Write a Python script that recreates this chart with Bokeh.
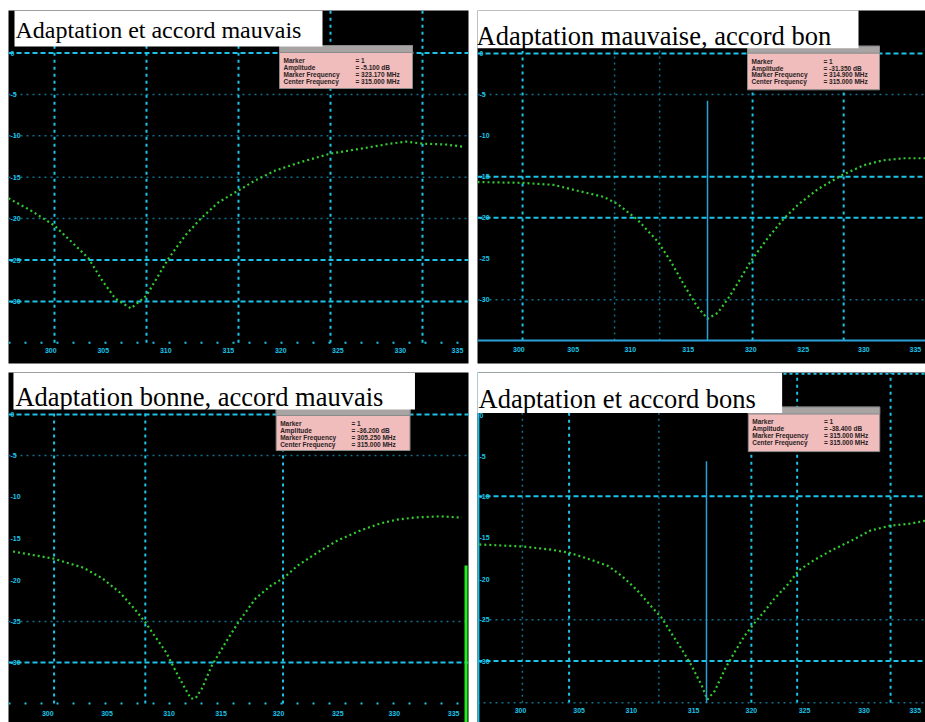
from bokeh.plotting import figure
from bokeh.layouts import gridplot
from bokeh.models import Range1d, Label
from bokeh.core.properties import value
from bokeh.embed import file_html
from bokeh.resources import INLINE

# ---------------- data (x, y in screen divisions of each trace) ----------------
titles = ["Adaptation et accord mauvais", "Adaptation mauvaise, accord bon",
          "Adaptation bonne, accord mauvais", "Adaptation et accord bons"]

curve1_x = [0.00, 0.24, 0.50, 0.67, 0.87, 1.02, 1.16, 1.33, 1.50, 1.63, 1.74, 1.92, 2.09,
            2.28, 2.50, 2.68, 2.90, 3.17, 3.50, 3.83, 4.15, 4.32, 4.50, 4.75, 4.93]
curve1_y = [3.99, 3.70, 3.33, 2.97, 2.54, 2.00, 1.57, 1.33, 1.64, 2.13, 2.54, 3.09, 3.50,
            3.89, 4.18, 4.42, 4.66, 4.86, 5.07, 5.19, 5.31, 5.36, 5.31, 5.29, 5.24]

curve2_x = [0.00, 0.50, 0.83, 1.01, 1.37, 1.52, 1.74, 1.96, 2.10, 2.24, 2.39, 2.50, 2.61,
            2.72, 2.83, 2.97, 3.15, 3.33, 3.48, 3.70, 3.98, 4.20, 4.41, 4.63, 4.87]
curve2_y = [4.42, 4.40, 4.35, 4.25, 4.06, 3.89, 3.50, 2.97, 2.49, 1.93, 1.38, 1.09, 1.23,
            1.57, 1.96, 2.49, 3.04, 3.53, 3.86, 4.25, 4.61, 4.83, 4.95, 5.00, 5.00]

curve3_x = [0.05, 0.49, 0.82, 1.03, 1.22, 1.38, 1.50, 1.60, 1.73, 1.84, 1.95, 2.00, 2.05,
            2.12, 2.23, 2.38, 2.52, 2.71, 2.88, 3.01, 3.17, 3.39, 3.61, 3.86, 4.08, 4.26,
            4.45, 4.73, 4.97]
curve3_y = [4.13, 3.96, 3.74, 3.48, 3.14, 2.75, 2.42, 2.10, 1.69, 1.21, 0.77, 0.58, 0.58,
            0.82, 1.38, 1.93, 2.42, 3.00, 3.31, 3.48, 3.79, 4.11, 4.40, 4.64, 4.81, 4.90,
            4.95, 4.98, 4.95]

curve4_x = [0.02, 0.49, 0.78, 1.00, 1.22, 1.43, 1.58, 1.74, 1.90, 2.01, 2.12, 2.23, 2.34,
            2.45, 2.51, 2.59, 2.70, 2.80, 2.91, 3.02, 3.13, 3.24, 3.39, 3.51, 3.67, 3.86,
            4.08, 4.29, 4.51, 4.73, 4.89]
curve4_y = [4.35, 4.30, 4.23, 4.15, 3.99, 3.82, 3.57, 3.24, 2.83, 2.56, 2.17, 1.79, 1.38,
            0.89, 0.56, 0.77, 1.30, 1.69, 2.10, 2.42, 2.71, 3.02, 3.38, 3.72, 3.96, 4.20,
            4.44, 4.69, 4.81, 4.86, 4.93]

# grid lines (bright / faint) of each screen
vgrid_bright = [[0.5, 1.5, 2.5, 3.5, 4.5], [0.49, 2.99, 3.98], [0.50, 1.50, 3.01], [1.00, 2.99, 3.49, 4.51]]
vgrid_faint = [[], [1.49, 1.98], [], [0.49, 1.98]]
hgrid_bright = [[7.5, 2.5, 1.5], [7.55, 4.55, 3.55], [7.44, 1.45], [5.53, 1.50]]
hgrid_faint = [[6.5, 5.5, 4.5, 3.5], [6.55, 1.55], [6.45, 2.44], [2.51]]
baseline = [0.50, 0.56, 0.46, 0.48]
marker_x = [None, 2.50, None, 2.50]
marker_top = [None, 6.40, None, 6.38]

ytick_pos = [[7.5, 6.5, 5.5, 4.5, 3.5, 2.5, 1.5],
             [7.55, 6.55, 5.55, 4.55, 3.55, 2.55, 1.55],
             [7.44, 6.45, 5.45, 4.45, 3.44, 2.44, 1.45],
             [7.49, 6.50, 5.53, 4.52, 3.50, 2.51, 1.50]]
ytick_text = ["0", "-5", "-10", "-15", "-20", "-25", "-30"]
xtick_pos = [[0.46, 1.03, 1.71, 2.39, 2.96, 3.58, 4.26, 4.88],
             [0.45, 1.04, 1.66, 2.29, 2.97, 3.54, 4.20, 4.76],
             [0.43, 1.08, 1.76, 2.33, 2.96, 3.61, 4.23, 4.88],
             [0.47, 1.11, 1.68, 2.36, 2.99, 3.57, 4.22, 4.78]]
xtick_y = [0.31, 0.34, 0.22, 0.29]
xtick_text = ["300", "305", "310", "315", "320", "325", "330", "335"]

info_names = ["Marker", "Amplitude", "Marker Frequency", "Center Frequency"]
info_values = [["= 1", "= -5.100 dB", "= 323.170 MHz", "= 315.000 MHz"],
               ["= 1", "= -31.350 dB", "= 314.900 MHz", "= 315.000 MHz"],
               ["= 1", "= -36.200 dB", "= 305.250 MHz", "= 315.000 MHz"],
               ["= 1", "= -38.400 dB", "= 315.000 MHz", "= 315.000 MHz"]]

# ---------------- layout (canvas pixels) ----------------
PX_X, PX_Y = 92.0, 41.4
CYAN = "#1cc4e8"
FAINT = "#0f6f8e"
GREEN = "#32cc32"

layout = [
    dict(origin=(0, 0), size=(472, 365), border=(8, 4, 10, 2),
         title_box=(14, 10, 322, 46), title_at=(15, 29), title_size="24px",
         info_box=(279, 45, 412, 88)),
    dict(origin=(472, 0), size=(453, 365), border=(5, 0, 7, 2),
         title_box=(470, 0, 858, 45), title_at=(476, 33), title_size="26.5px",
         info_box=(747, 43, 879, 87)),
    dict(origin=(0, 365), size=(472, 357), border=(8, 0, 7, 0),
         title_box=(13, 372, 418, 409), title_at=(15, 396), title_size="26.5px",
         info_box=(278, 408, 413, 450)),
    dict(origin=(472, 365), size=(453, 357), border=(3, 0, 3, 0),
         title_box=(470, 368, 781, 409), title_at=(476, 395), title_size="26.5px",
         info_box=(747, 403, 879, 448)),
]
curves = [(curve1_x, curve1_y), (curve2_x, curve2_y), (curve3_x, curve3_y), (curve4_x, curve4_y)]


def make_panel(i):
    L = layout[i]
    w, h = L["size"]
    bl, br, bt, bb = L["border"]
    fw, fh = w - bl - br, h - bt - bb
    ox, oy = L["origin"]
    fl, fb = ox + bl, oy + h - bb
    X = lambda px: (px - fl) / PX_X
    Y = lambda py: (fb - py) / PX_Y
    xmax, ymax = fw / PX_X, fh / PX_Y

    p = figure(width=w, height=h, x_range=Range1d(0, xmax), y_range=Range1d(0, ymax),
               output_backend="svg", toolbar_location=None,
               x_axis_location=None, y_axis_location=None,
               min_border_left=bl, min_border_right=br, min_border_top=bt, min_border_bottom=bb,
               background_fill_color="black", border_fill_color="white",
               outline_line_color=None)
    p.grid.visible = False

    base = baseline[i]
    # faint grid
    vf = vgrid_faint[i]
    if vf:
        p.segment(x0=vf, y0=[base] * len(vf), x1=vf, y1=[ymax] * len(vf),
                  line_color=FAINT, line_width=1.5, line_dash="2 4")
    hf = hgrid_faint[i]
    p.segment(x0=[0] * len(hf), y0=hf, x1=[xmax] * len(hf), y1=hf,
              line_color=FAINT, line_width=1.5, line_dash="2 4")
    # bright grid
    vb = vgrid_bright[i]
    p.segment(x0=vb, y0=[base] * len(vb), x1=vb, y1=[ymax] * len(vb),
              line_color=CYAN, line_width=2, line_dash="3 4")
    hb = hgrid_bright[i]
    p.segment(x0=[0] * len(hb), y0=hb, x1=[xmax] * len(hb), y1=hb,
              line_color=CYAN, line_width=2, line_dash="5 3")
    # bottom line of the screen
    if i == 1:
        p.segment(x0=[0], y0=[base], x1=[xmax], y1=[base], line_color="#2aa0d8", line_width=2)
    elif i == 3:
        p.segment(x0=[0], y0=[base], x1=[xmax], y1=[base], line_color=FAINT, line_width=1.5, line_dash="2 4")
        p.segment(x0=[0], y0=[ymax - 0.03], x1=[xmax], y1=[ymax - 0.03], line_color=CYAN, line_width=2, line_dash="3 3")
        p.segment(x0=[0.01], y0=[0], x1=[0.01], y1=[ymax], line_color=CYAN, line_width=2)
    else:
        p.segment(x0=[0], y0=[base], x1=[xmax], y1=[base], line_color=CYAN, line_width=2, line_dash="2 14")
    if i == 2:
        p.segment(x0=[X(469.5)], y0=[0], x1=[X(469.5)], y1=[Y(565)], line_color="#22ee22", line_width=3)

    # tick labels
    p.text(x=[X(fl + 2)] * len(ytick_pos[i]), y=ytick_pos[i], text=ytick_text,
           text_color=CYAN, text_font=value("Liberation Sans"), text_font_size="7px",
           text_font_style="bold", text_baseline="middle", text_align="left")
    p.text(x=xtick_pos[i], y=[xtick_y[i]] * len(xtick_pos[i]), text=xtick_text,
           text_color=CYAN, text_font=value("Liberation Sans"), text_font_size="7px",
           text_font_style="bold", text_baseline="middle", text_align="center")

    # trace
    cx, cy = curves[i]
    p.line(cx, cy, line_color=GREEN, line_width=2.2, line_dash="2 3")

    # marker line
    if marker_x[i] is not None:
        p.segment(x0=[marker_x[i]], y0=[base], x1=[marker_x[i]], y1=[marker_top[i]],
                  line_color="#2aa0d8", line_width=1.5)

    # info box
    l, t, r, b = L["info_box"]
    p.quad(left=X(l), right=X(r), top=Y(t), bottom=Y(b), fill_color="#f1bcbc",
           line_color="#8a8a8a", line_width=1)
    p.quad(left=X(l), right=X(r), top=Y(t), bottom=Y(t + 7), fill_color="#a9a4a4",
           line_color="#8a8a8a", line_width=1)
    rows = [t + 15, t + 22, t + 29, t + 36]
    p.text(x=[X(l + 4)] * 4, y=[Y(r_) for r_ in rows], text=info_names,
           text_color="#2a2222", text_font=value("Liberation Sans"), text_font_size="6.5px",
           text_font_style="bold", text_baseline="middle", text_align="left")
    p.text(x=[X(l + 76)] * 4, y=[Y(r_) for r_ in rows], text=info_values[i],
           text_color="#2a2222", text_font=value("Liberation Sans"), text_font_size="6.5px",
           text_font_style="bold", text_baseline="middle", text_align="left")

    # title box
    l, t, r, b = L["title_box"]
    p.quad(left=X(l), right=X(r), top=Y(t), bottom=Y(b), fill_color="white", line_color=None)
    tx, ty = L["title_at"]
    p.add_layout(Label(x=X(tx), y=Y(ty), text=titles[i], text_font="Liberation Serif",
                       text_font_size=L["title_size"], text_color="black",
                       text_baseline="alphabetic", text_align="left"))
    return p


panels = [make_panel(i) for i in range(4)]
grid = gridplot([[panels[0], panels[1]], [panels[2], panels[3]]], toolbar_location=None)

open("out.html", "w").write(file_html(grid, INLINE))
